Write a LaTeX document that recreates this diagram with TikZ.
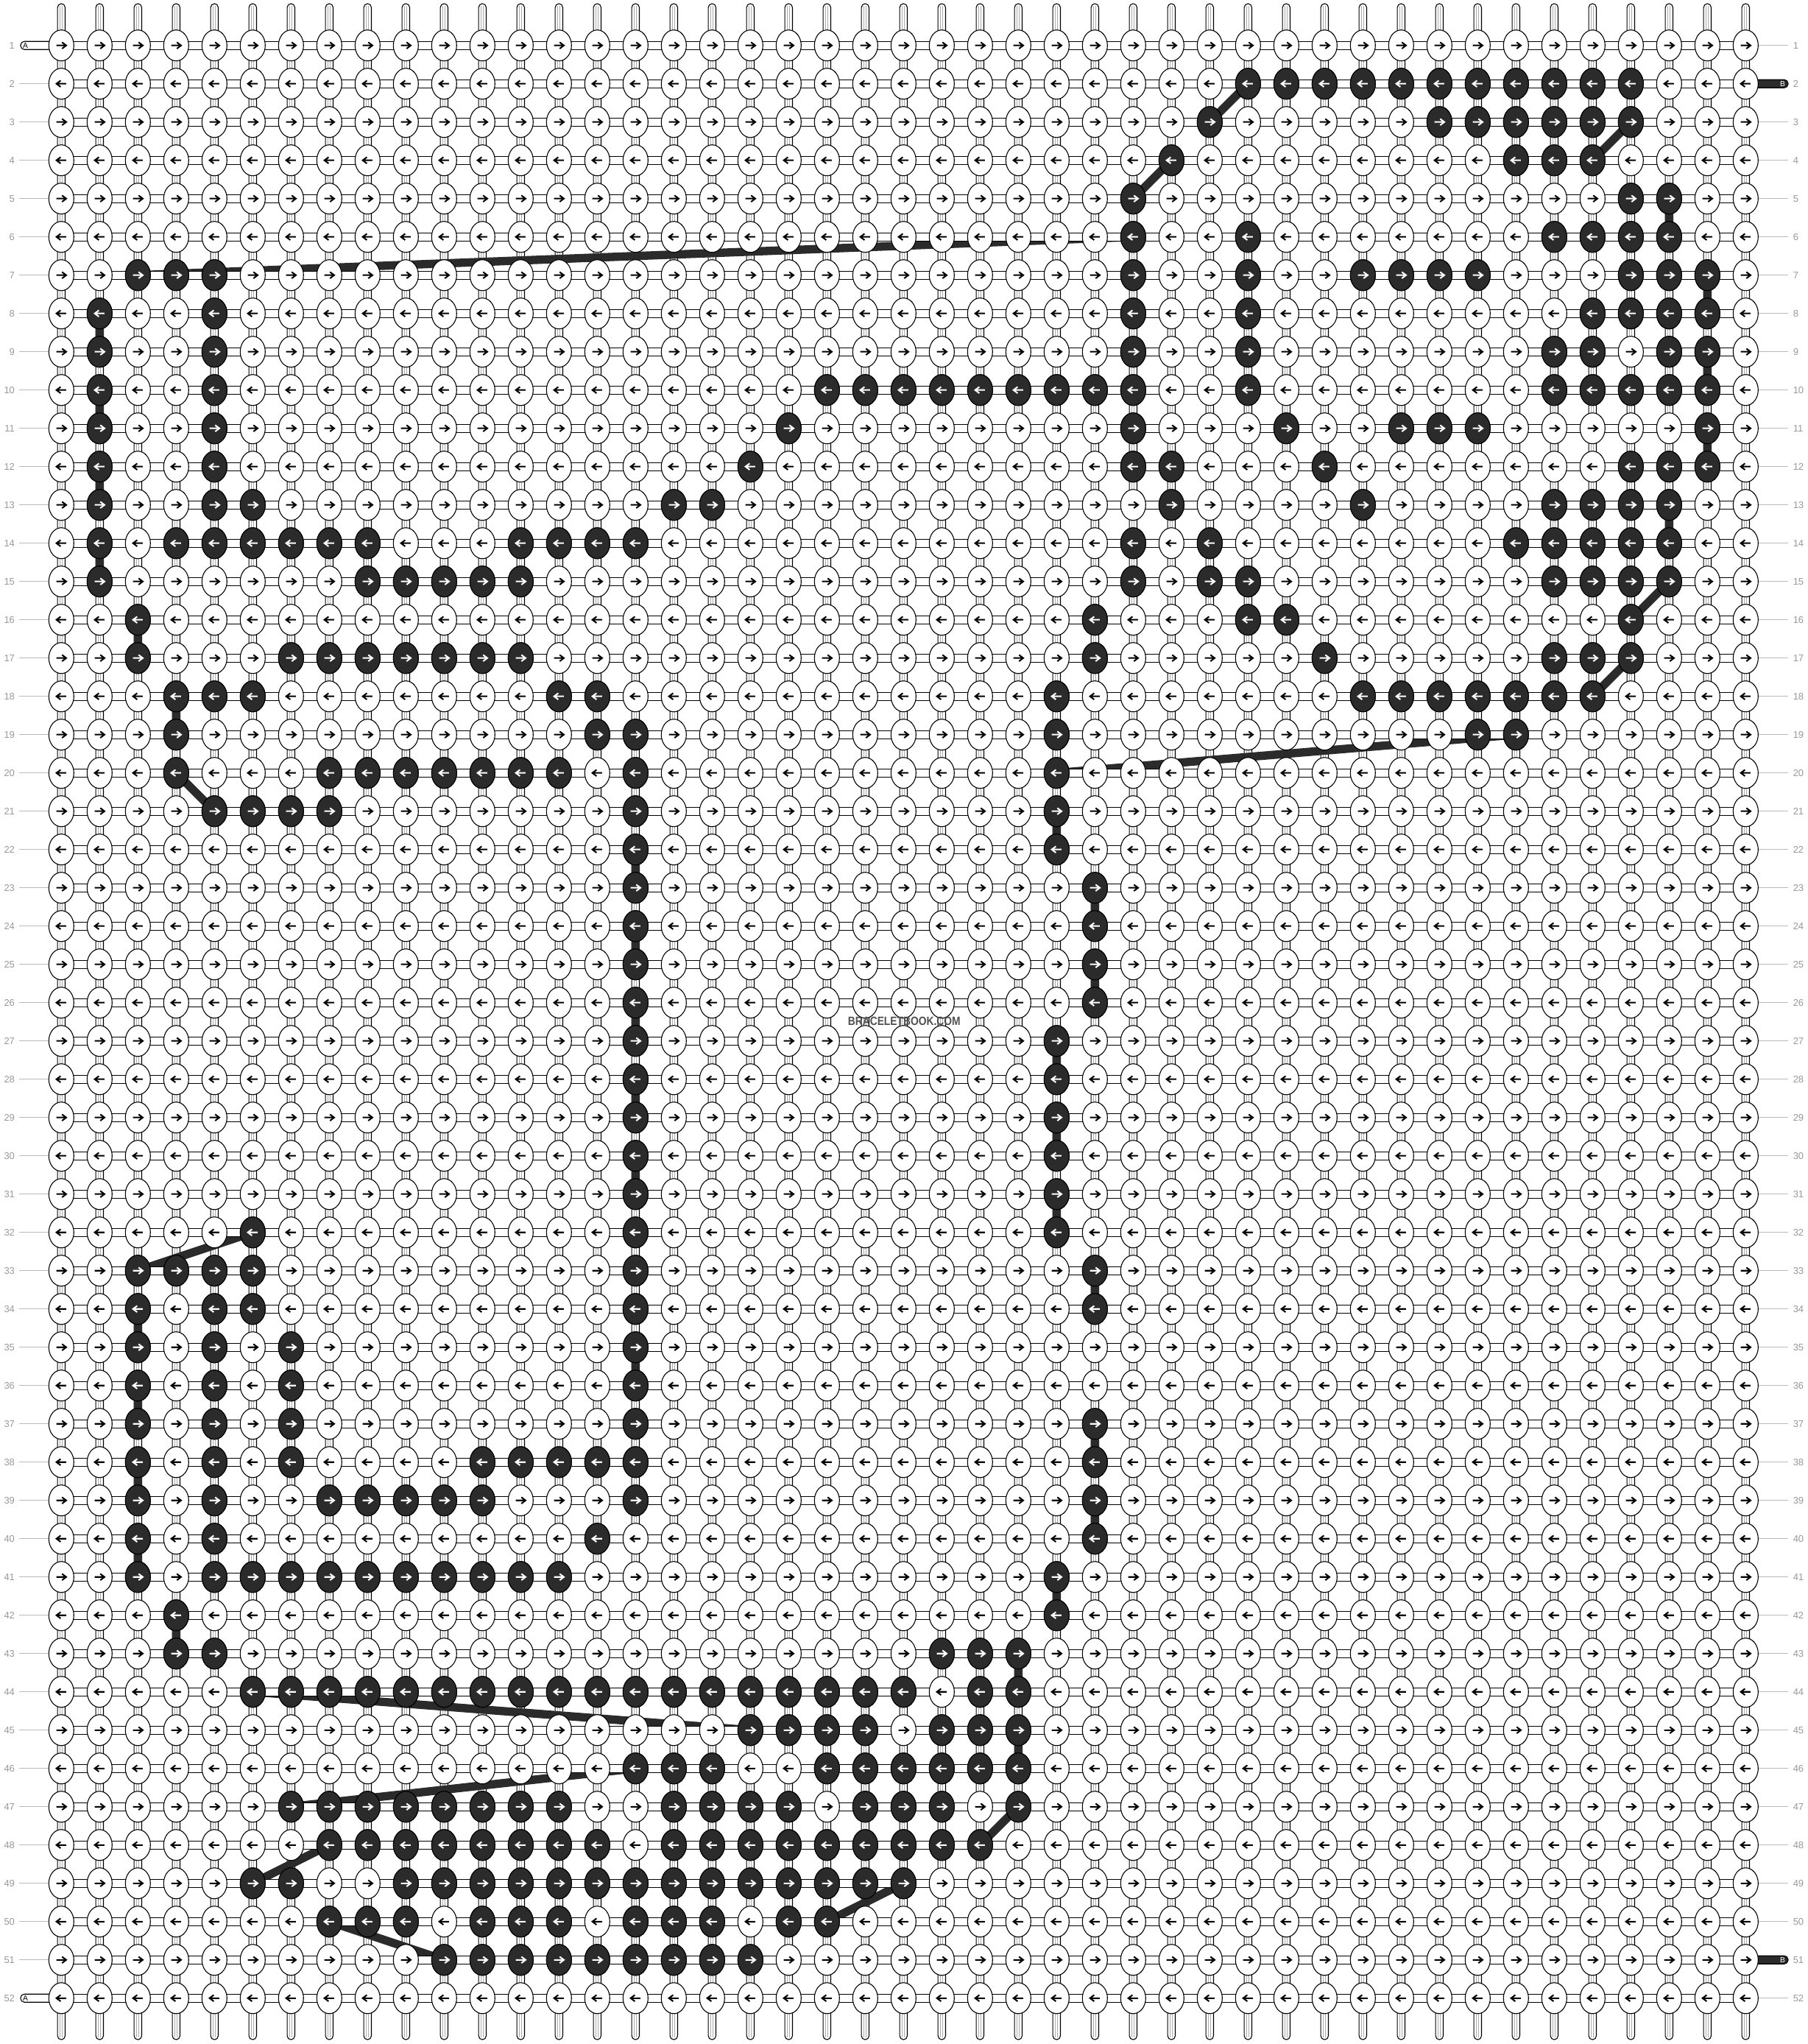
\documentclass[tikz,border=0pt]{standalone}
\usepackage{fontspec}
\setmainfont{Liberation Sans}
\usepackage{graphicx}
\definecolor{dk}{HTML}{2B2B2B}
\definecolor{lblgray}{HTML}{999999}
\definecolor{leadgray}{HTML}{BBBBBB}
\definecolor{strgray}{HTML}{AAAAAA}
\definecolor{wmgray}{HTML}{505050}
\tikzset{
 vband/.style={draw=black,fill=white,line width=0.3pt,rounded corners=1.4pt},
 hband/.style={draw=black,fill=white,line width=0.3pt},
 strline/.style={draw=strgray,line width=0.25pt},
 thread/.style={draw=dk,line width=3.1pt},
 knotw/.style={draw=black,fill=white,line width=0.3pt},
 knotd/.style={draw=black,fill=dk,line width=0.3pt},
 arrb/.style={draw=black,line width=0.55pt,line join=miter,line cap=butt},
 arrw/.style={draw=white,line width=0.55pt,line join=miter,line cap=butt},
 lead/.style={draw=leadgray,line width=0.3pt},
 rowlab/.style={text=lblgray,font=\fontsize{3.55}{4}\selectfont,inner sep=0pt},
 endA/.style={draw=black,fill=white,line width=0.3pt,rounded corners=1.4pt},
 endB/.style={draw=black,fill=dk,line width=0.3pt,rounded corners=1.4pt},
 endlab/.style={font=\fontsize{2.8}{3}\selectfont,inner sep=0pt},
}
\def\darklist{
2/{31,32,33,34,35,36,37,38,39,40,41},
3/{30,36,37,38,39,40,41},
4/{29,38,39,40},
5/{28,41,42},
6/{28,31,39,40,41,42},
7/{2,3,4,28,31,34,35,36,37,41,42,43},
8/{1,4,28,31,40,41,42,43},
9/{1,4,28,31,39,40,42,43},
10/{1,4,20,21,22,23,24,25,26,27,28,31,39,40,41,42,43},
11/{1,4,19,28,32,35,36,37,43},
12/{1,4,18,28,29,33,41,42,43},
13/{1,4,5,16,17,29,34,39,40,41,42},
14/{1,3,4,5,6,7,8,12,13,14,15,28,30,38,39,40,41,42},
15/{1,8,9,10,11,12,28,30,31,39,40,41,42},
16/{2,27,31,32,41},
17/{2,6,7,8,9,10,11,12,27,33,39,40,41},
18/{3,4,5,13,14,26,34,35,36,37,38,39,40},
19/{3,14,15,26,37,38},
20/{3,7,8,9,10,11,12,13,15,26},
21/{4,5,6,7,15,26},
22/{15,26},
23/{15,27},
24/{15,27},
25/{15,27},
26/{15,27},
27/{15,26},
28/{15,26},
29/{15,26},
30/{15,26},
31/{15,26},
32/{5,15,26},
33/{2,3,4,5,15,27},
34/{2,4,5,15,27},
35/{2,4,6,15},
36/{2,4,6,15},
37/{2,4,6,15,27},
38/{2,4,6,11,12,13,14,15,27},
39/{2,4,7,8,9,10,11,15,27},
40/{2,4,14,27},
41/{2,4,5,6,7,8,9,10,11,12,13,26},
42/{3,26},
43/{3,4,23,24,25},
44/{5,6,7,8,9,10,11,12,13,14,15,16,17,18,19,20,21,22,24,25},
45/{18,19,20,21,23,24,25},
46/{15,16,17,20,21,22,23,24,25},
47/{6,7,8,9,10,11,12,13,16,17,18,19,21,22,23,25},
48/{7,8,9,10,11,12,13,14,16,17,18,19,20,21,22,23,24},
49/{5,6,9,10,11,12,13,14,15,16,17,18,19,20,21,22},
50/{7,8,9,11,12,13,15,16,17,19,20},
51/{10,11,12,13,14,15,16,17,18}}
\begin{document}
\begin{tikzpicture}[x=0.5cm,y=-0.5cm]
\useasboundingbox (0,0) rectangle (47.2308,53.3846);
\fill[white] (0,0) rectangle (47.2308,53.3846);
% named positions of the dark knots
\foreach \r/\cs in \darklist {\foreach \c in \cs {\coordinate (k\r-\c) at ({\c+1.602},{\r+0.187});}}
% vertical strings
\foreach \c in {0,...,44}{
  \path[vband] ({\c+1.503},0.096) rectangle ({\c+1.701},53.27);
  \draw[strline] ({\c+1.572},0.15) -- ({\c+1.572},53.22) ({\c+1.632},0.15) -- ({\c+1.632},53.22);
}
% dark thread
\draw[thread] (k2-31) -- (k3-30);
\draw[thread] (k3-41) -- (k4-40);
\draw[thread] (k4-29) -- (k5-28);
\draw[thread] (k5-42) -- (k6-42);
\draw[thread] (k6-28) -- (k7-2);
\draw[thread] (k7-43) -- (k8-43);
\draw[thread] (k8-1) -- (k9-1);
\draw[thread] (k9-43) -- (k10-43);
\draw[thread] (k10-1) -- (k11-1);
\draw[thread] (k11-43) -- (k12-43);
\draw[thread] (k12-1) -- (k13-1);
\draw[thread] (k13-42) -- (k14-42);
\draw[thread] (k14-1) -- (k15-1);
\draw[thread] (k15-42) -- (k16-41);
\draw[thread] (k16-2) -- (k17-2);
\draw[thread] (k17-41) -- (k18-40);
\draw[thread] (k18-3) -- (k19-3);
\draw[thread] (k19-38) -- (k20-26);
\draw[thread] (k20-3) -- (k21-4);
\draw[thread] (k21-26) -- (k22-26);
\draw[thread] (k22-15) -- (k23-15);
\draw[thread] (k23-27) -- (k24-27);
\draw[thread] (k24-15) -- (k25-15);
\draw[thread] (k25-27) -- (k26-27);
\draw[thread] (k26-15) -- (k27-15);
\draw[thread] (k27-26) -- (k28-26);
\draw[thread] (k28-15) -- (k29-15);
\draw[thread] (k29-26) -- (k30-26);
\draw[thread] (k30-15) -- (k31-15);
\draw[thread] (k31-26) -- (k32-26);
\draw[thread] (k32-5) -- (k33-2);
\draw[thread] (k33-27) -- (k34-27);
\draw[thread] (k34-2) -- (k35-2);
\draw[thread] (k35-15) -- (k36-15);
\draw[thread] (k36-2) -- (k37-2);
\draw[thread] (k37-27) -- (k38-27);
\draw[thread] (k38-2) -- (k39-2);
\draw[thread] (k39-27) -- (k40-27);
\draw[thread] (k40-2) -- (k41-2);
\draw[thread] (k41-26) -- (k42-26);
\draw[thread] (k42-3) -- (k43-3);
\draw[thread] (k43-25) -- (k44-25);
\draw[thread] (k44-5) -- (k45-18);
\draw[thread] (k45-25) -- (k46-25);
\draw[thread] (k46-15) -- (k47-6);
\draw[thread] (k47-25) -- (k48-24);
\draw[thread] (k48-7) -- (k49-5);
\draw[thread] (k49-22) -- (k50-20);
\draw[thread] (k50-7) -- (k51-10);
% horizontal strings
\foreach \r in {1,...,52}{\path[hband] (1.602,{\r+0.081}) rectangle (45.602,{\r+0.293});}
% string ends A and B
\foreach \r in {1,52}{
  \path[endA] (0.538,{\r+0.081}) rectangle (1.75,{\r+0.293});
  \node[endlab] (ea\r) at (0.663,{\r+0.187}) {A};
}
\foreach \r in {2,51}{
  \path[endB] (45.5,{\r+0.081}) rectangle (46.71,{\r+0.293});
  \node[endlab,text=white] (eb\r) at (46.565,{\r+0.187}) {B};
}
% leaders
\foreach \r in {2,...,51}{\draw[lead] (0.5,{\r+0.187}) -- (1.275,{\r+0.187});}
\foreach \r in {1,3,4,...,50,52}{\draw[lead] (45.93,{\r+0.187}) -- (46.71,{\r+0.187});}
% knots
\foreach \r in {1,...,52}{
  \path[knotw] \foreach \c in {0,...,44}{({\c+1.602},{\r+0.187}) ellipse [x radius=0.327,y radius=0.404]};
}
\foreach \r in {1,...,52}{
  \ifodd\r \def\adir{1}\else\def\adir{-1}\fi
  \path[arrb] \foreach \c in {0,...,44}{({\c+1.602-0.128*\adir},{\r+0.187}) -- ++({0.256*\adir},0) ++({-0.11*\adir},-0.083) -- ++({0.11*\adir},0.083) -- ++({-0.11*\adir},0.083)};
}
\foreach \r/\cs in \darklist {
  \path[knotd] \foreach \c in \cs {(k\r-\c) ellipse [x radius=0.327,y radius=0.404]};
}
\foreach \r/\cs in \darklist {
  \ifodd\r \def\adir{1}\else\def\adir{-1}\fi
  \path[arrw] \foreach \c in \cs {({\c+1.602-0.128*\adir},{\r+0.187}) -- ++({0.256*\adir},0) ++({-0.11*\adir},-0.083) -- ++({0.11*\adir},0.083) -- ++({-0.11*\adir},0.083)};
}
% row numbers
\foreach \r in {1,...,52}{
  \node[rowlab,anchor=east] (ll\r) at (0.398,{\r+0.187}) {\r};
  \node[rowlab,anchor=west] (rl\r) at (46.827,{\r+0.187}) {\r};
}
% watermark
\node[text=wmgray,font=\fontsize{4.45}{5}\selectfont\bfseries,inner sep=0pt] (wm) at (23.62,26.68) {\scalebox{0.85}[1]{BRACELETBOOK.COM}};
\end{tikzpicture}
\end{document}
